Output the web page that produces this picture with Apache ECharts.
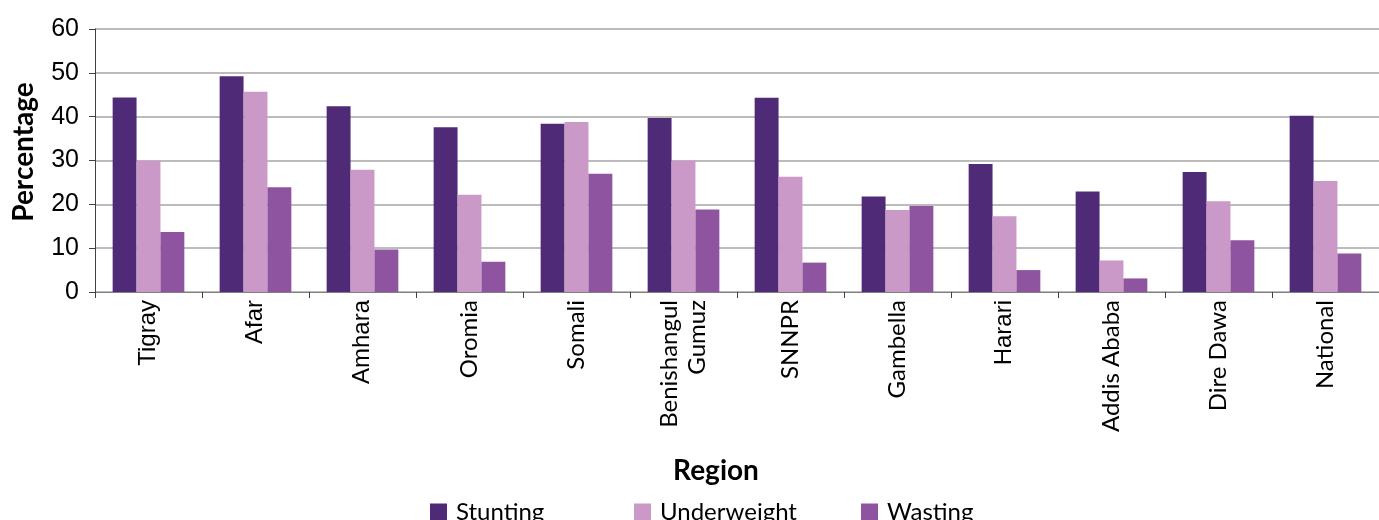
<!DOCTYPE html>
<html>
<head>
<meta charset="utf-8">
<script src="https://cdn.jsdelivr.net/npm/echarts@6/dist/echarts.min.js"></script>
<style>
  html, body { margin: 0; padding: 0; background: #ffffff; }
  #chart { width: 1379px; height: 520px; }
</style>
</head>
<body>
<div id="chart"></div>
<script>
// Regions of Ethiopia plus the national figure
const regions = ['Tigray', 'Afar', 'Amhara', 'Oromia', 'Somali', 'Benishangul\nGumuz',
  'SNNPR', 'Gambella', 'Harari', 'Addis Ababa', 'Dire Dawa', 'National'];
// Labels set in the sans-serif face; the rest use the humanist face
const arialLabels = ['Tigray', 'Afar', 'Amhara', 'Harari'];

const stunting    = [44.4, 49.2, 42.4, 37.6, 38.4, 39.7, 44.3, 21.8, 29.2, 22.9, 27.4, 40.2];
const underweight = [30.0, 45.7, 27.9, 22.2, 38.8, 30.0, 26.3, 18.7, 17.3, 7.2, 20.7, 25.3];
const wasting     = [13.7, 23.9, 9.7, 6.9, 27.0, 18.8, 6.7, 19.6, 5.0, 3.1, 11.8, 8.8];

const yTicks = { min: 0, max: 60, interval: 10 };

const colors = { stunting: '#4E2A77', underweight: '#CB99C7', wasting: '#8E54A0' };

const chart = echarts.init(document.getElementById('chart'), null, { renderer: 'canvas' });

function legendFor(name, left) {
  return {
    data: [name],
    left: left,
    top: 500,
    icon: 'rect',
    itemWidth: 17,
    itemHeight: 17,
    itemGap: 0,
    padding: 0,
    textStyle: { fontFamily: 'Lato', fontSize: 24, color: '#000', padding: [0, 0, 0, 4] },
    selectedMode: false
  };
}

const option = {
  backgroundColor: '#ffffff',
  animation: false,
  grid: { left: 95, top: 29, right: -8, bottom: 228, containLabel: false },
  legend: [
    legendFor('Stunting', 430),
    legendFor('Underweight', 634),
    legendFor('Wasting', 861)
  ],
  graphic: [
    {
      type: 'text', x: 24, y: 152, rotation: Math.PI / 2,
      style: { text: 'Percentage', fontFamily: 'Lato', fontWeight: 'bold', fontSize: 28,
        fill: '#000', align: 'center', verticalAlign: 'middle' }
    },
    {
      type: 'text', x: 716, y: 471,
      style: { text: 'Region', fontFamily: 'Lato', fontWeight: 'bold', fontSize: 28,
        fill: '#000', align: 'center', verticalAlign: 'middle' }
    }
  ],
  xAxis: {
    type: 'category',
    data: regions,
    axisLine: { lineStyle: { color: '#808080', width: 1 } },
    axisTick: { show: true, length: 6, lineStyle: { color: '#404040' } },
    axisLabel: {
      rotate: 90,
      margin: 8,
      interval: 0,
      color: '#000',
      formatter: function (v) {
        return arialLabels.indexOf(v) >= 0 ? '{a|' + v + '}' : v.split('\n').map(s => '{c|' + s + '}').join('\n');
      },
      rich: {
        a: { fontFamily: 'Liberation Sans', fontSize: 24, color: '#000', lineHeight: 28 },
        c: { fontFamily: 'Lato', fontSize: 24, color: '#000', lineHeight: 28 }
      }
    },
    splitLine: { show: false }
  },
  yAxis: {
    type: 'value',
    min: yTicks.min,
    max: yTicks.max,
    interval: yTicks.interval,
    axisLine: { show: true, lineStyle: { color: '#404040', width: 1 } },
    axisTick: { show: true, length: 6, lineStyle: { color: '#404040' } },
    axisLabel: { fontFamily: 'Liberation Sans', fontSize: 25, color: '#000', margin: 16 },
    splitLine: { lineStyle: { color: '#A6A6A6', width: 1.5 } }
  },
  series: [
    { name: 'Stunting', type: 'bar', data: stunting, itemStyle: { color: colors.stunting },
      barGap: '0%', barCategoryGap: '33%' },
    { name: 'Underweight', type: 'bar', data: underweight, itemStyle: { color: colors.underweight },
      barGap: '0%', barCategoryGap: '33%' },
    { name: 'Wasting', type: 'bar', data: wasting, itemStyle: { color: colors.wasting },
      barGap: '0%', barCategoryGap: '33%' }
  ]
};

chart.setOption(option);
</script>
</body>
</html>
